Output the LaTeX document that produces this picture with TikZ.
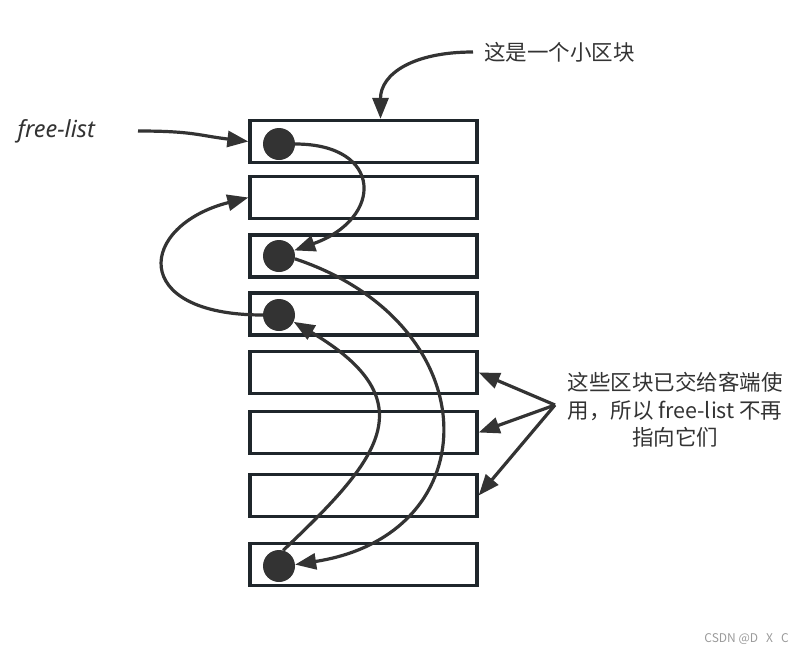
\documentclass[tikz,border=0pt]{standalone}
\usepackage{fontspec}
\setmainfont{Noto Sans CJK SC}
\newfontfamily\latinfont{Noto Sans}
\usetikzlibrary{arrows.meta}
\definecolor{inkgray}{HTML}{333333}
\definecolor{edgegray}{HTML}{1F262B}
\definecolor{markgray}{HTML}{9A9A9A}
\begin{document}
\begin{tikzpicture}[x=1pt, y=-1pt,
  blk/.style={draw=edgegray, line width=3.3pt, minimum width=227pt, minimum height=42pt, inner sep=0pt},
  dot/.style={circle, fill=inkgray, minimum size=32pt, inner sep=0pt},
  arr/.style={draw=inkgray, line width=3.2pt, -{Triangle[length=21pt,width=16pt]}},
  lbl/.style={inner sep=0pt, text=inkgray, font=\fontsize{21.5}{27.5}\selectfont}]
\useasboundingbox (0,0) rectangle (804,654);
\node[blk] (blk1) at (363.5,141.5) {};
\node[blk] (blk2) at (363.5,197.5) {};
\node[blk] (blk3) at (363.5,256) {};
\node[blk] (blk4) at (363.5,314) {};
\node[blk] (blk5) at (363.5,372.5) {};
\node[blk] (blk6) at (363.5,432.5) {};
\node[blk] (blk7) at (363.5,495.5) {};
\node[blk] (blk8) at (363.5,564.5) {};
\node[dot] (d1) at (279,144) {};
\node[dot] (d3) at (279,256) {};
\node[dot] (d4) at (279,315) {};
\node[dot] (d8) at (279,566) {};
\node[lbl, anchor=west] (piece) at (484,52) {这是一个小区块};
\node[lbl, anchor=east, font=\latinfont\itshape\fontsize{23.5}{27}\selectfont] (fl) at (95,131) {free-list};
\node[lbl, align=center] (gone) at (675,410) {这些区块已交给客端使\\用，所以 free-list 不再\\指向它们};
\node[lbl, anchor=east, text=markgray, font=\fontsize{12}{14}\selectfont] (mark) at (789,639) {CSDN @D\ \ \ X\ \ \ C};
\coordinate (fan) at (555,405);
\draw[arr] ([xshift=-11pt]piece.west) .. controls +(-60,0) and +(0,-45) .. ([xshift=17pt]blk1.north);
\draw[arr] ([xshift=43pt]fl.east) .. controls +(55,0) and +(-50,-6) .. (blk1.west);
\draw[arr] (d1.east) .. controls +(88,0) and +(90,-32) .. (d3.20);
\draw[arr] (d4.west) .. controls +(-135,0) and +(-110,28) .. (blk2.west);
\draw[arr] (d3.-10) .. controls +(195,65) and +(195,-30) .. (d8.5);
\draw[arr] (d8.75) .. controls +(95,-90) and +(135,80) .. (d4.-25);
\draw[arr] (fan) -- (blk5.east);
\draw[arr] (fan) -- (blk6.east);
\draw[arr] (fan) -- (blk7.east);
\end{tikzpicture}
\end{document}
